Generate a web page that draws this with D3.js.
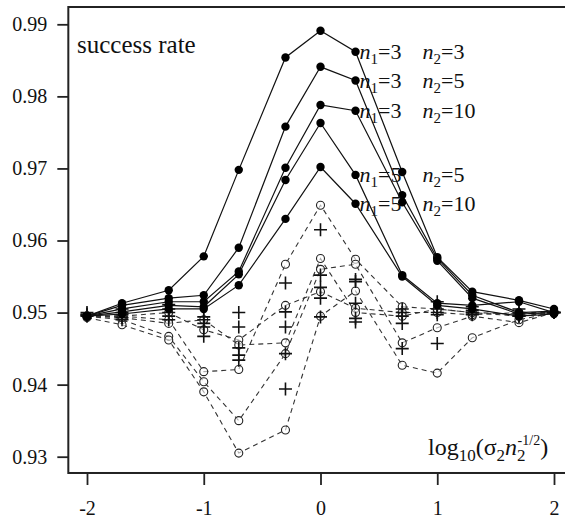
<!DOCTYPE html>
<meta charset="utf-8">
<script src="https://d3js.org/d3.v7.min.js"></script>
<style>
  body { margin: 0; background: #fff; }
  svg text { font-family: "Liberation Serif", "Times New Roman", Tinos, "DejaVu Serif", serif !important; fill: #111; }
</style>
<body>
<div id="chart"></div>
<script>

// x positions: log10(sigma2 * n2^-1/2)
var xVals = [-2, -1.7, -1.3, -1, -0.7, -0.3, 0, 0.3, 0.7, 1, 1.3, 1.7, 2];
var xTicks = [-2, -1, 0, 1, 2];
var yTicks = [0.93, 0.94, 0.95, 0.96, 0.97, 0.98, 0.99];

// solid lines, filled dots
var solid33  = [0.9495, 0.9513, 0.9531, 0.9578, 0.9698, 0.9854, 0.9891, 0.9862, 0.9695, 0.9577, 0.9529, 0.9517, 0.9505];
var solid35  = [0.9495, 0.9510, 0.9520, 0.9524, 0.9590, 0.9758, 0.9841, 0.9822, 0.9663, 0.9575, 0.9524, 0.9500, 0.9502];
var solid310 = [0.9495, 0.9505, 0.9515, 0.9515, 0.9557, 0.9701, 0.9788, 0.9780, 0.9653, 0.9572, 0.9520, 0.9498, 0.9500];
var solid55  = [0.9495, 0.9501, 0.9510, 0.9508, 0.9553, 0.9684, 0.9763, 0.9691, 0.9552, 0.9513, 0.9510, 0.9515, 0.9500];
var solid510 = [0.9495, 0.9498, 0.9505, 0.9505, 0.9538, 0.9630, 0.9702, 0.9651, 0.9550, 0.9510, 0.9505, 0.9495, 0.9498];

// dashed lines, open circles
var dashA = [0.9495, 0.9495, 0.9490, 0.9418, 0.9421, 0.9567, 0.9649, 0.9574, 0.9508, 0.9505, 0.9500, 0.9498, 0.9500];
var dashB = [0.9495, 0.9490, 0.9467, 0.9404, 0.9350, 0.9443, 0.9560, 0.9567, 0.9458, 0.9479, 0.9495, 0.9486, 0.9500];
var dashC = [0.9493, 0.9483, 0.9462, 0.9390, 0.9305, 0.9337, 0.9495, 0.9530, 0.9427, 0.9416, 0.9465, 0.9490, 0.9500];
var dashD = [0.9495, 0.9495, 0.9500, 0.9476, 0.9462, 0.9510, 0.9529, 0.9506, 0.9500, 0.9500, 0.9497, 0.9500, 0.9500];
var dashE = [0.9495, 0.9493, 0.9485, 0.9490, 0.9455, 0.9458, 0.9575, 0.9500, 0.9495, 0.9505, 0.9500, 0.9495, 0.9500];

// plus markers, no lines
var plusA = [0.9500, 0.9505, 0.9511, 0.9494, 0.9500, 0.9541, 0.9615, 0.9546, 0.9505, 0.9515, 0.9508, 0.9505, 0.9500];
var plusB = [0.9498, 0.9500, 0.9505, 0.9490, 0.9480, 0.9501, 0.9552, 0.9543, 0.9500, 0.9505, 0.9503, 0.9500, 0.9500];
var plusC = [0.9497, 0.9497, 0.9500, 0.9485, 0.9451, 0.9480, 0.9535, 0.9513, 0.9495, 0.9500, 0.9500, 0.9498, 0.9500];
var plusD = [0.9496, 0.9493, 0.9495, 0.9467, 0.9441, 0.9443, 0.9520, 0.9492, 0.9485, 0.9497, 0.9498, 0.9495, 0.9500];
var plusE = [0.9495, 0.9490, 0.9490, 0.9480, 0.9434, 0.9394, 0.9494, 0.9487, 0.9450, 0.9457, 0.9497, 0.9495, 0.9500];

var labels = [
  {n1: "3", n2: "3",  y: solid33[7]},
  {n1: "3", n2: "5",  y: solid35[7]},
  {n1: "3", n2: "10", y: solid310[7]},
  {n1: "5", n2: "5",  y: solid55[7]},
  {n1: "5", n2: "10", y: solid510[7]}
];

var width = 565, height = 522;
var serif = "'Liberation Serif', 'Times New Roman', Tinos, serif";

var svg = d3.select("#chart").append("svg")
    .attr("width", width)
    .attr("height", height)
    .attr("font-family", serif);

var x = d3.scaleLinear().domain([-2, 2]).range([87, 554]);
var y = d3.scaleLinear().domain([0.93, 0.99]).range([456.7, 24.3]);

// plot frame (R style, 4% padding)
var frameL = x(-2.16), frameR = x(2.16), frameT = y(0.9924), frameB = y(0.92774);

// axes
var yAxis = d3.axisLeft(y).tickValues(yTicks).tickFormat(d3.format(".2f"))
    .tickSize(11).tickPadding(10);
var gy = svg.append("g")
    .attr("transform", "translate(" + frameL + ",0)")
    .call(yAxis);

var xAxis = d3.axisBottom(x).tickValues(xTicks).tickFormat(d3.format("d"))
    .tickSize(12).tickPadding(16);
var gx = svg.append("g")
    .attr("transform", "translate(0," + frameB + ")")
    .call(xAxis);

[gx, gy].forEach(function(g) {
  g.attr("font-family", serif);
  g.select(".domain").remove();
  g.selectAll("line").attr("stroke", "#222").attr("stroke-width", 1.8);
  g.selectAll("text")
    .style("font-family", serif)
    .style("font-size", "20px")
    .attr("fill", "#222");
});
gx.selectAll("text").text(function(d) { return d < 0 ? "-" + Math.abs(d) : d; });

var line = d3.line()
    .x(function(d, i) { return x(xVals[i]); })
    .y(function(d) { return y(d); });

// dashed series
[dashA, dashB, dashC, dashD, dashE].forEach(function(s) {
  svg.append("path")
    .datum(s)
    .attr("d", line)
    .attr("fill", "none")
    .attr("stroke", "#333")
    .attr("stroke-width", 1.1)
    .attr("stroke-dasharray", "5,4");
  svg.append("g").selectAll("circle")
    .data(s)
    .enter()
    .append("circle")
      .attr("cx", function(d, i) { return x(xVals[i]); })
      .attr("cy", function(d) { return y(d); })
      .attr("r", 4)
      .attr("fill", "white")
      .attr("fill-opacity", 0.6)
      .attr("stroke", "#222")
      .attr("stroke-width", 1.1);
});

// plus markers
[plusA, plusB, plusC, plusD, plusE].forEach(function(s) {
  svg.append("g").selectAll("path")
    .data(s)
    .enter()
    .append("path")
      .attr("d", function(d, i) {
        var cx = x(xVals[i]), cy = y(d);
        return "M" + (cx - 6.5) + "," + cy + "H" + (cx + 6.5) +
               "M" + cx + "," + (cy - 6.5) + "V" + (cy + 6.5);
      })
      .attr("stroke", "#111")
      .attr("stroke-width", 1.6)
      .attr("fill", "none");
});

// solid series
[solid33, solid35, solid310, solid55, solid510].forEach(function(s) {
  svg.append("path")
    .datum(s)
    .attr("d", line)
    .attr("fill", "none")
    .attr("stroke", "#111")
    .attr("stroke-width", 1.2);
  svg.append("g").selectAll("circle")
    .data(s)
    .enter()
    .append("circle")
      .attr("cx", function(d, i) { return x(xVals[i]); })
      .attr("cy", function(d) { return y(d); })
      .attr("r", 4.2)
      .attr("fill", "#000");
});

// frame
svg.append("rect")
    .attr("x", frameL)
    .attr("y", frameT)
    .attr("width", frameR - frameL)
    .attr("height", frameB - frameT)
    .attr("fill", "none")
    .attr("stroke", "#222")
    .attr("stroke-width", 2);

// series labels
var lab = svg.append("g").selectAll("text")
    .data(labels)
    .enter()
    .append("text")
      .attr("x", x(0.3) + 4)
      .attr("y", function(d) { return y(d.y) + 7; })
      .style("font-size", "22px");
lab.each(function(d) {
  var t = d3.select(this);
  t.append("tspan").style("font-style", "italic").text("n");
  t.append("tspan").attr("dy", 5).style("font-size", "15px").text("1");
  t.append("tspan").attr("dy", -5).text("=" + d.n1);
  t.append("tspan").attr("x", x(0.3) + 67).style("font-style", "italic").text("n");
  t.append("tspan").attr("dy", 5).style("font-size", "15px").text("2");
  t.append("tspan").attr("dy", -5).text("=" + d.n2);
});

svg.append("text")
    .attr("x", 77)
    .attr("y", 53)
    .style("font-size", "25px")
    .text("success rate");

// x axis title
var xt = svg.append("text")
    .attr("x", 428)
    .attr("y", 455)
    .style("font-size", "24px");
xt.append("tspan").text("log");
xt.append("tspan").attr("dy", 6).style("font-size", "17px").text("10");
xt.append("tspan").attr("dy", -6).text("(σ");
xt.append("tspan").attr("dy", 6).style("font-size", "17px").text("2");
xt.append("tspan").attr("dy", -6).style("font-style", "italic").text("n");
xt.append("tspan").attr("dy", 6).style("font-size", "17px").text("2");
xt.append("tspan").attr("dx", -8).attr("dy", -16).style("font-size", "14px").text("-1/2");
xt.append("tspan").attr("dy", 10).text(")");

</script>
</body>
